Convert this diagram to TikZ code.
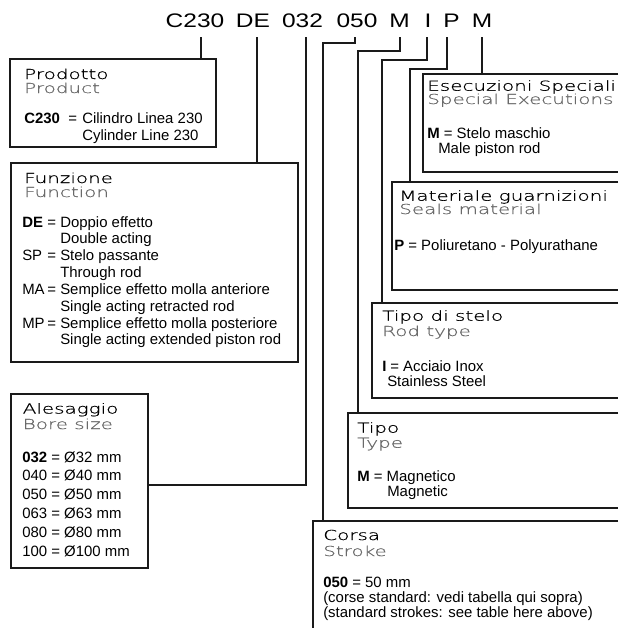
\documentclass[tikz,border=0pt]{standalone}
\usepackage{fontspec}
\setmainfont{Liberation Sans}
\newfontfamily\hf[FakeStretch=1.45,FakeBold=0.8]{DejaVu Sans ExtraLight}
\newfontfamily\cf[FakeStretch=1.25]{Liberation Sans}
\usetikzlibrary{fit}
\definecolor{subgray}{HTML}{6A6A6A}
\definecolor{lin}{HTML}{1A1A1A}
\begin{document}
\begin{tikzpicture}[x=0.75pt,y=-0.75pt,
  boxline/.style={draw=lin,line width=0.9pt},
  conn/.style={draw=lin,line width=0.9pt},
  frame/.style={inner sep=0pt,outer sep=0pt},
  code/.style={font=\cf\fontsize{14.7}{16}\selectfont, anchor=base, inner xsep=0pt, inner ysep=7.5pt, outer sep=0pt},
  hone/.style={font=\hf\fontsize{10.3}{11}\selectfont, anchor=base west, inner sep=0pt, text=black},
  htwo/.style={hone, text=subgray},
  body/.style={anchor=base west, inner sep=0pt},
]
\useasboundingbox (0,0) rectangle (618,628);

% code line
\node[code] (c1) at (195,27) {C230};
\node[code] (c2) at (253,27) {DE};
\node[code] (c3) at (302.5,27) {032};
\node[code] (c4) at (357,27) {050};
\node[code] (c5) at (399.5,27) {M};
\node[code] (c6) at (428,27) {I};
\node[code] (c7) at (451.5,27) {P};
\node[code] (c8) at (482,27) {M};

% boxes
\node[frame, boxline, fit={(10,59) (216,147)}] (prod) {};
\node[frame, boxline, fit={(11,163) (298,362)}] (func) {};
\node[frame, boxline, fit={(11,394) (148,568)}] (bore) {};
\node[frame, fit={(423,74) (618,172)}] (esec) {};
\node[frame, fit={(392,182) (618,290)}] (mat) {};
\node[frame, fit={(372,303) (618,398)}] (stelo) {};
\node[frame, fit={(348,413) (618,508)}] (tipo) {};
\node[frame, fit={(313,521) (618,628)}] (corsa) {};
\draw[boxline] (esec.north east) -- (esec.north west) -- (esec.south west) -- (esec.south east);
\draw[boxline] (mat.north east) -- (mat.north west) -- (mat.south west) -- (mat.south east);
\draw[boxline] (stelo.north east) -- (stelo.north west) -- (stelo.south west) -- (stelo.south east);
\draw[boxline] (tipo.north east) -- (tipo.north west) -- (tipo.south west) -- (tipo.south east);
\draw[boxline] (corsa.north east) -- (corsa.north west) -- (corsa.south west);

% connectors
\draw[conn] (201,0 |- c1.south) -- (201,0 |- prod.north);
\draw[conn] (257,0 |- c2.south) -- (257,0 |- func.north);
\draw[conn] (306,0 |- c3.south) |- (148,485) -- (bore.east |- 0,485);
\draw[conn] (355,0 |- c4.south) |- (323,43) -- (323,0 |- corsa.north);
\draw[conn] (400,0 |- c5.south) |- (358,51) -- (358,0 |- tipo.north);
\draw[conn] (427,0 |- c6.south) |- (382,60) -- (382,0 |- stelo.north);
\draw[conn] (447,0 |- c7.south) |- (410,69) -- (410,0 |- mat.north);
\draw[conn] (482,0 |- c8.south) -- (482,0 |- esec.north);

% Prodotto
\node[hone] (prodA) at (24,79) {Prodotto};
\node[htwo] (prodB) at (24,93) {Product};
\node[body, font=\fontsize{11.2}{12.75}\selectfont] (prodC) at (24,123) {\begin{tabular}[t]{@{}l@{}}
\makebox[33pt][l]{\textbf{C230}}\makebox[10.5pt][l]{=}Cilindro Linea 230\\
\hspace*{43.5pt}Cylinder Line 230
\end{tabular}};

% Funzione
\node[hone] (funcA) at (24,183) {Funzione};
\node[htwo] (funcB) at (24,197) {Function};
\node[body, font=\fontsize{11.2}{12.64}\selectfont] (funcC) at (22,227) {\begin{tabular}[t]{@{}l@{}}
\makebox[18.75pt][l]{\textbf{DE}}\makebox[9.75pt][l]{=}Doppio effetto\\
\hspace*{28.5pt}Double acting\\
\makebox[18.75pt][l]{SP}\makebox[9.75pt][l]{=}Stelo passante\\
\hspace*{28.5pt}Through rod\\
\makebox[18.75pt][l]{MA}\makebox[9.75pt][l]{=}Semplice effetto molla anteriore\\
\hspace*{28.5pt}Single acting retracted rod\\
\makebox[18.75pt][l]{MP}\makebox[9.75pt][l]{=}Semplice effetto molla posteriore\\
\hspace*{28.5pt}Single acting extended piston rod
\end{tabular}};

% Alesaggio
\node[hone] (boreA) at (22.5,413.5) {Alesaggio};
\node[htwo] (boreB) at (22.5,429) {Bore size};
\node[body, font=\fontsize{11.2}{14.1}\selectfont] (boreC) at (22,462) {\begin{tabular}[t]{@{}l@{}}
\textbf{032} = Ø32 mm\\
040 = Ø40 mm\\
050 = Ø50 mm\\
063 = Ø63 mm\\
080 = Ø80 mm\\
100 = Ø100 mm
\end{tabular}};

% Esecuzioni Speciali
\node[hone] (esecA) at (427,90.7) {Esecuzioni Speciali};
\node[htwo] (esecB) at (427,104) {Special Executions};
\node[body, font=\fontsize{11.2}{11.25}\selectfont] (esecC) at (427,138) {\begin{tabular}[t]{@{}l@{}}
\textbf{M} = Stelo maschio\\
\hspace*{8.25pt}Male piston rod
\end{tabular}};

% Materiale guarnizioni
\node[hone] (matA) at (399,200.7) {Materiale guarnizioni};
\node[htwo] (matB) at (399,214) {Seals material};
\node[body, font=\fontsize{11.2}{12}\selectfont] (matC) at (394,250) {\textbf{P} = Poliuretano - Polyurathane};

% Tipo di stelo
\node[hone] (steloA) at (382,320.7) {Tipo di stelo};
\node[htwo] (steloB) at (382,336) {Rod type};
\node[body, font=\fontsize{11.2}{11.25}\selectfont] (steloC) at (382,371) {\begin{tabular}[t]{@{}l@{}}
\makebox[6pt][l]{\textbf{I}}= Acciaio Inox\\
\hspace*{3.75pt}Stainless Steel
\end{tabular}};

% Tipo
\node[hone] (tipoA) at (357,432.7) {Tipo};
\node[htwo] (tipoB) at (357,447.7) {Type};
\node[body, font=\fontsize{11.2}{10.5}\selectfont] (tipoC) at (357,481) {\begin{tabular}[t]{@{}l@{}}
\textbf{M} = Magnetico\\
\hspace*{22.5pt}Magnetic
\end{tabular}};

% Corsa
\node[hone] (corsaA) at (323,540) {Corsa};
\node[htwo] (corsaB) at (323,556) {Stroke};
\node[body, font=\fontsize{11.2}{11.6}\selectfont] (corsaC) at (323,587) {\begin{tabular}[t]{@{}l@{}}
\textbf{050} = 50 mm\\
(corse standard: vedi tabella qui sopra)\\
(standard strokes: see table here above)
\end{tabular}};
\end{tikzpicture}
\end{document}
